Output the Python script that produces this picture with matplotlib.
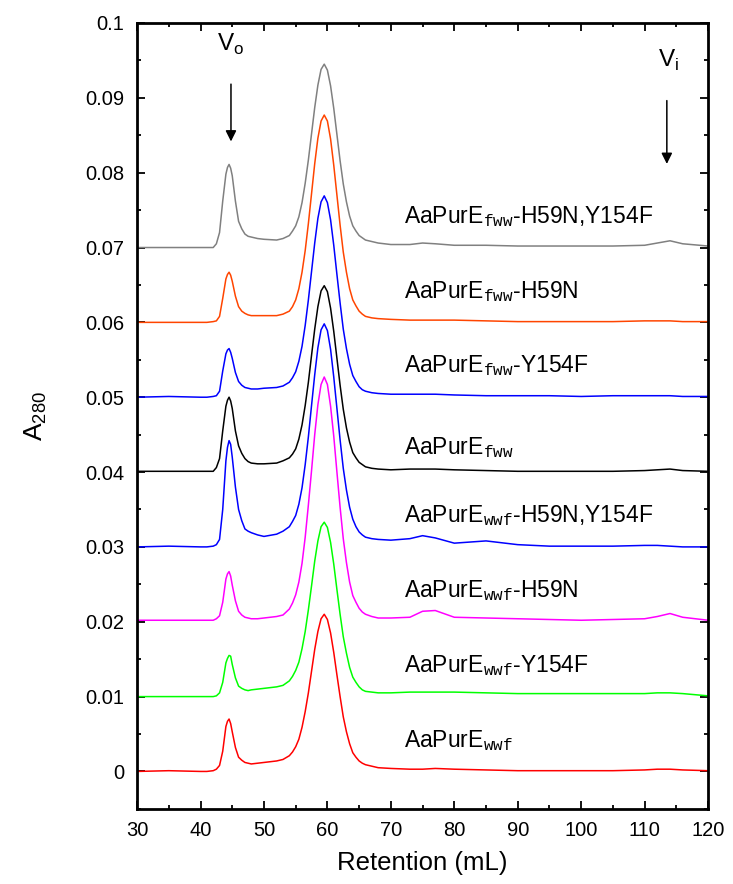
#Size-exclusion traces of AaPurE variants, stacked by 0.01 A280 each

import numpy as np
import matplotlib.pyplot as plt
from matplotlib.ticker import MultipleLocator, FuncFormatter

plt.rcParams['font.family'] = ['Liberation Sans', 'DejaVu Sans']
plt.rcParams['mathtext.fontset'] = 'custom'
plt.rcParams['mathtext.rm'] = 'Liberation Sans'
plt.rcParams['mathtext.tt'] = 'Liberation Mono'

#retention volume (mL), shared by every trace
retention = [30, 35, 40, 41, 42, 42.5, 43, 43.5, 44, 44.25, 44.5, 44.75, 45, 45.5, 46, 46.5,
             47, 47.5, 48, 49, 50, 52, 53, 54, 54.5, 55, 55.5, 56, 56.5, 57, 57.5, 58,
             58.5, 59, 59.5, 60, 60.5, 61, 61.5, 62, 62.5, 63, 63.5, 64, 64.5, 65, 65.5,
             66, 67, 68, 70, 73, 75, 77, 80, 85, 90, 95, 100, 105, 110, 112, 114, 116, 120]

#absorbance at 280 nm, already offset
wwf = [0.0000, 0.0001, 0.0000, 0.0000, 0.0001, 0.0003, 0.0008, 0.0027, 0.0060, 0.0067,
       0.0070, 0.0064, 0.0053, 0.0032, 0.0019, 0.0015, 0.0012, 0.0011, 0.0010, 0.0011,
       0.0012, 0.0014, 0.0016, 0.0021, 0.0026, 0.0033, 0.0043, 0.0059, 0.0080, 0.0105,
       0.0134, 0.0163, 0.0187, 0.0204, 0.0210, 0.0203, 0.0185, 0.0159, 0.0129, 0.0100,
       0.0073, 0.0053, 0.0037, 0.0025, 0.0019, 0.0014, 0.0011, 0.0009, 0.0007, 0.0005,
       0.0004, 0.0003, 0.0003, 0.0004, 0.0003, 0.0002, 0.0001, 0.0001, 0.0001, 0.0001,
       0.0002, 0.0003, 0.0003, 0.0002, 0.0001]
wwf_Y154F = [0.0100, 0.0100, 0.0100, 0.0100, 0.0100, 0.0101, 0.0105, 0.0119, 0.0145, 0.0151,
             0.0155, 0.0154, 0.0143, 0.0125, 0.0114, 0.0111, 0.0109, 0.0108, 0.0109, 0.0110,
             0.0111, 0.0113, 0.0115, 0.0121, 0.0127, 0.0135, 0.0146, 0.0164, 0.0187, 0.0216,
             0.0248, 0.0281, 0.0308, 0.0327, 0.0333, 0.0326, 0.0306, 0.0277, 0.0243, 0.0210,
             0.0180, 0.0158, 0.0139, 0.0126, 0.0119, 0.0113, 0.0109, 0.0107, 0.0106, 0.0105,
             0.0105, 0.0106, 0.0106, 0.0106, 0.0106, 0.0105, 0.0104, 0.0104, 0.0104, 0.0104,
             0.0104, 0.0105, 0.0105, 0.0104, 0.0101]
wwf_H59N = [0.0202, 0.0202, 0.0202, 0.0202, 0.0202, 0.0204, 0.0208, 0.0226, 0.0257, 0.0264,
            0.0267, 0.0261, 0.0249, 0.0228, 0.0214, 0.0209, 0.0206, 0.0205, 0.0204, 0.0204,
            0.0205, 0.0207, 0.0209, 0.0217, 0.0225, 0.0236, 0.0253, 0.0278, 0.0313, 0.0356,
            0.0402, 0.0450, 0.0490, 0.0517, 0.0527, 0.0517, 0.0488, 0.0448, 0.0400, 0.0353,
            0.0311, 0.0279, 0.0253, 0.0235, 0.0226, 0.0218, 0.0213, 0.0210, 0.0207, 0.0205,
            0.0205, 0.0206, 0.0214, 0.0215, 0.0206, 0.0205, 0.0204, 0.0203, 0.0202, 0.0203,
            0.0204, 0.0207, 0.0211, 0.0206, 0.0202]
wwf_H59N_Y154F = [0.0300, 0.0301, 0.0300, 0.0300, 0.0301, 0.0303, 0.0310, 0.0350, 0.0415, 0.0433,
                  0.0442, 0.0437, 0.0420, 0.0380, 0.0350, 0.0335, 0.0324, 0.0321, 0.0319, 0.0316,
                  0.0314, 0.0317, 0.0321, 0.0327, 0.0334, 0.0342, 0.0357, 0.0379, 0.0410, 0.0447,
                  0.0489, 0.0530, 0.0566, 0.0590, 0.0598, 0.0589, 0.0564, 0.0527, 0.0485, 0.0443,
                  0.0405, 0.0376, 0.0353, 0.0337, 0.0327, 0.0320, 0.0316, 0.0313, 0.0311, 0.0310,
                  0.0309, 0.0311, 0.0315, 0.0312, 0.0305, 0.0308, 0.0303, 0.0301, 0.0301, 0.0301,
                  0.0302, 0.0302, 0.0301, 0.0300, 0.0300]
fww = [0.0401, 0.0401, 0.0401, 0.0401, 0.0401, 0.0406, 0.0418, 0.0455, 0.0488, 0.0496,
       0.0500, 0.0495, 0.0485, 0.0455, 0.0435, 0.0425, 0.0418, 0.0414, 0.0412, 0.0411,
       0.0411, 0.0412, 0.0415, 0.0419, 0.0424, 0.0431, 0.0444, 0.0463, 0.0489, 0.0520,
       0.0556, 0.0591, 0.0621, 0.0642, 0.0649, 0.0641, 0.0619, 0.0588, 0.0552, 0.0516,
       0.0484, 0.0459, 0.0440, 0.0426, 0.0419, 0.0413, 0.0410, 0.0407, 0.0405, 0.0404,
       0.0403, 0.0404, 0.0404, 0.0404, 0.0403, 0.0402, 0.0401, 0.0401, 0.0401, 0.0401,
       0.0402, 0.0403, 0.0404, 0.0402, 0.0401]
fww_Y154F = [0.0500, 0.0501, 0.0500, 0.0500, 0.0501, 0.0502, 0.0508, 0.0535, 0.0558, 0.0563,
             0.0565, 0.0560, 0.0552, 0.0533, 0.0521, 0.0516, 0.0513, 0.0512, 0.0511, 0.0511,
             0.0512, 0.0513, 0.0515, 0.0520, 0.0526, 0.0534, 0.0548, 0.0568, 0.0596, 0.0630,
             0.0668, 0.0706, 0.0739, 0.0761, 0.0769, 0.0760, 0.0737, 0.0703, 0.0664, 0.0626,
             0.0591, 0.0565, 0.0544, 0.0529, 0.0521, 0.0514, 0.0510, 0.0508, 0.0506, 0.0505,
             0.0504, 0.0504, 0.0504, 0.0504, 0.0503, 0.0502, 0.0502, 0.0502, 0.0501, 0.0502,
             0.0502, 0.0502, 0.0502, 0.0501, 0.0501]
fww_H59N = [0.0600, 0.0600, 0.0600, 0.0600, 0.0601, 0.0602, 0.0608, 0.0632, 0.0658, 0.0664,
            0.0667, 0.0663, 0.0655, 0.0635, 0.0621, 0.0615, 0.0612, 0.0610, 0.0609, 0.0609,
            0.0609, 0.0609, 0.0611, 0.0615, 0.0621, 0.0630, 0.0645, 0.0667, 0.0696, 0.0732,
            0.0772, 0.0812, 0.0846, 0.0869, 0.0877, 0.0869, 0.0845, 0.0810, 0.0770, 0.0730,
            0.0694, 0.0667, 0.0645, 0.0630, 0.0622, 0.0615, 0.0611, 0.0608, 0.0606, 0.0605,
            0.0604, 0.0603, 0.0603, 0.0603, 0.0603, 0.0602, 0.0601, 0.0601, 0.0601, 0.0601,
            0.0602, 0.0602, 0.0602, 0.0601, 0.0601]
fww_H59N_Y154F = [0.0700, 0.0700, 0.0700, 0.0700, 0.0700, 0.0705, 0.0720, 0.0762, 0.0798, 0.0807,
                  0.0811, 0.0806, 0.0796, 0.0762, 0.0735, 0.0725, 0.0718, 0.0715, 0.0714, 0.0712,
                  0.0711, 0.0710, 0.0712, 0.0716, 0.0722, 0.0729, 0.0741, 0.0760, 0.0786, 0.0817,
                  0.0852, 0.0887, 0.0917, 0.0938, 0.0945, 0.0937, 0.0916, 0.0886, 0.0851, 0.0816,
                  0.0785, 0.0761, 0.0742, 0.0729, 0.0722, 0.0716, 0.0713, 0.0710, 0.0708, 0.0706,
                  0.0704, 0.0704, 0.0706, 0.0705, 0.0703, 0.0703, 0.0702, 0.0702, 0.0702, 0.0702,
                  0.0703, 0.0706, 0.0709, 0.0705, 0.0702]

traces = [wwf, wwf_Y154F, wwf_H59N, wwf_H59N_Y154F, fww, fww_Y154F, fww_H59N, fww_H59N_Y154F]
names = [r"AaPurE$_{\mathtt{wwf}}$",
         r"AaPurE$_{\mathtt{wwf}}$-Y154F",
         r"AaPurE$_{\mathtt{wwf}}$-H59N",
         r"AaPurE$_{\mathtt{wwf}}$-H59N,Y154F",
         r"AaPurE$_{\mathtt{fww}}$",
         r"AaPurE$_{\mathtt{fww}}$-Y154F",
         r"AaPurE$_{\mathtt{fww}}$-H59N",
         r"AaPurE$_{\mathtt{fww}}$-H59N,Y154F"]
colors = ['#ff0000', '#00ff00', '#ff00ff', '#0000ff', '#000000', '#0000ff', '#ff4500', '#808080']

#where each name sits (baseline of the text)
label_x = 72
label_y = [0.0033, 0.0133, 0.0233, 0.0333, 0.0424, 0.0533, 0.0633, 0.0733]

void_vol = 44.8      # V_o
incl_vol = 113.5     # V_i

fig = plt.figure(figsize=(7.33, 8.84), dpi=100)
ax = fig.add_axes([0.187, 0.085, 0.779, 0.889])

for y, c, name, ly in zip(traces, colors, names, label_y):
    ax.plot(retention, y, '-', color=c, lw=1.1)
    ax.text(label_x, ly, name, fontsize=16.5, va='baseline', ha='left')

#V_o and V_i markers
ax.annotate('', xy=(void_vol, 0.0838), xytext=(void_vol, 0.0922),
            arrowprops=dict(arrowstyle='-|>', color='k', lw=1.1, mutation_scale=16))
ax.text(void_vol, 0.0972, r"V$_\mathrm{o}$", fontsize=17.5, ha='center', va='center')
ax.annotate('', xy=(incl_vol, 0.0808), xytext=(incl_vol, 0.0900),
            arrowprops=dict(arrowstyle='-|>', color='k', lw=1.1, mutation_scale=16))
ax.text(incl_vol + 0.3, 0.0950, r"V$_\mathrm{i}$", fontsize=17.5, ha='center', va='center')

ax.set_xlim(30, 120)
ax.set_ylim(-0.005, 0.1)
ax.xaxis.set_major_locator(MultipleLocator(10))
ax.xaxis.set_minor_locator(MultipleLocator(5))
ax.yaxis.set_major_locator(MultipleLocator(0.01))
ax.yaxis.set_minor_locator(MultipleLocator(0.005))
ax.yaxis.set_major_formatter(FuncFormatter(lambda v, p: '%g' % round(v, 3)))
ax.tick_params(which='both', direction='in', top=True, right=True, width=1.3)
ax.tick_params(which='major', length=6, labelsize=14.5, pad=9)
ax.tick_params(which='minor', length=3)
for s in ax.spines.values():
    s.set_linewidth(2.0)

ax.set_xlabel("Retention (mL)", fontsize=18.5, labelpad=8)
ax.set_ylabel(r"A$_{280}$", fontsize=19, labelpad=26)

plt.savefig('out.png', dpi=100)
